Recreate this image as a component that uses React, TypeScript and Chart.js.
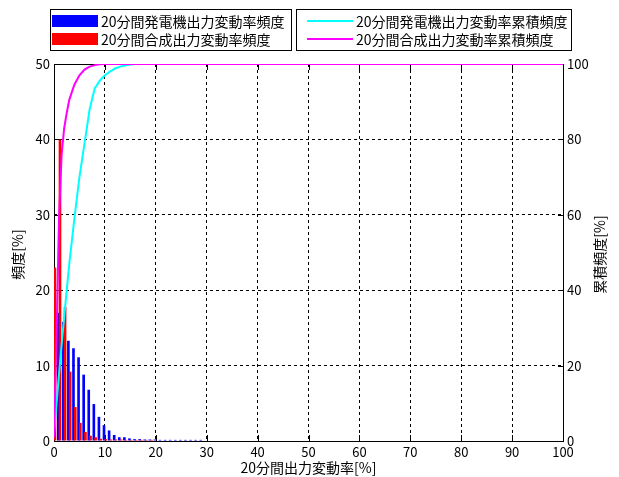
import React, { useEffect, useRef } from 'react';
import { Chart, registerables } from 'chart.js';

Chart.register(...registerables);

// ---- data ----
const binCenters = [0.5, 1.5, 2.5, 3.5, 4.5, 5.5, 6.5, 7.5, 8.5, 9.5, 10.5, 11.5, 12.5, 13.5, 14.5, 15.5, 16.5, 17.5, 18.5, 19.5, 20.5, 21.5, 22.5, 23.5, 24.5, 25.5, 26.5, 27.5, 28.5, 29.5];
const genFreq = [17, 15.8, 13.3, 12.3, 11.1, 8.8, 6.8, 4.9, 3.2, 2.1, 1.4, 0.8, 0.5, 0.5, 0.35, 0.25, 0.25, 0.2, 0.2, 0.2, 0.15, 0.15, 0.15, 0.15, 0.15, 0.15, 0.15, 0.15, 0.15, 0];
const synFreq = [23, 40, 17.8, 9.2, 4.5, 2.4, 1.2, 0.7, 0.5, 0.3, 0.25, 0.2, 0.2, 0.2, 0.15, 0.15, 0.15, 0.15, 0.15, 0.15, 0, 0, 0, 0, 0, 0, 0, 0, 0, 0];

const genCumX = [0, 1, 2, 3, 4, 5, 6, 7, 8, 9, 10, 11, 12, 13, 14, 15, 16, 100];
const genCum = [2, 18, 33, 47, 59, 70, 79, 88, 93.5, 95.6, 97, 98, 98.8, 99.3, 99.6, 99.85, 100, 100];
const synCumX = [0, 0.5, 1, 1.5, 2, 2.5, 3, 4, 5, 6, 7, 8, 9, 10, 100];
const synCum = [1, 28, 60, 76, 83, 87, 90.5, 94.5, 97, 98.5, 99.3, 99.7, 99.9, 100, 100];

const xTicksStep = 10;
const yLeftStep = 10;
const yRightStep = 20;

const labelGenFreq = '20分間発電機出力変動率頻度';
const labelSynFreq = '20分間合成出力変動率頻度';
const labelGenCum = '20分間発電機出力変動率累積頻度';
const labelSynCum = '20分間合成出力変動率累積頻度';
const xTitle = '20分間出力変動率[%]';
const yTitle = '頻度[%]';
const y1Title = '累積頻度[%]';

const FAMILY = '"Noto Sans CJK JP", sans-serif';

const decorPlugin = {
  id: 'decor',
  beforeDatasetsDraw(chart: any) {
    const { ctx, chartArea: a, scales } = chart;
    ctx.save();
    ctx.strokeStyle = '#000';
    ctx.lineWidth = 1;
    ctx.setLineDash([]);
    ctx.strokeRect(a.left + 0.5, a.top + 0.5, a.right - a.left, a.bottom - a.top);
    const tl = 6;
    ctx.beginPath();
    scales.x.ticks.forEach((t: any) => {
      const px = Math.round(scales.x.getPixelForValue(t.value)) + 0.5;
      ctx.moveTo(px, a.bottom);
      ctx.lineTo(px, a.bottom - tl);
      ctx.moveTo(px, a.top);
      ctx.lineTo(px, a.top + tl);
    });
    scales.y.ticks.forEach((t: any) => {
      const py = Math.round(scales.y.getPixelForValue(t.value)) + 0.5;
      ctx.moveTo(a.left, py);
      ctx.lineTo(a.left + tl, py);
    });
    scales.y1.ticks.forEach((t: any) => {
      const py = Math.round(scales.y1.getPixelForValue(t.value)) + 0.5;
      ctx.moveTo(a.right + 1, py);
      ctx.lineTo(a.right + 1 - tl, py);
    });
    ctx.stroke();
    ctx.restore();
  },
  afterDraw(chart: any) {
    const { ctx, chartArea: a } = chart;
    const ds = chart.data.datasets;
    ctx.save();
    ctx.fillStyle = '#000';
    ctx.font = `14px ${FAMILY}`;
    ctx.textBaseline = 'middle';
    // axis titles
    ctx.textAlign = 'center';
    ctx.fillText(xTitle, (a.left + a.right) / 2, 468);
    const cy = (a.top + a.bottom) / 2 + 2;
    ctx.save();
    ctx.translate(18, cy);
    ctx.rotate(-Math.PI / 2);
    ctx.fillText(yTitle, 0, 0);
    ctx.restore();
    ctx.save();
    ctx.translate(600, cy);
    ctx.rotate(-Math.PI / 2);
    ctx.fillText(y1Title, 0, 0);
    ctx.restore();

    // legend boxes
    ctx.strokeStyle = '#000';
    ctx.lineWidth = 1;
    ctx.fillStyle = '#fff';
    ctx.fillRect(51, 10, 241, 41);
    ctx.strokeRect(50.5, 9.5, 241, 41);
    ctx.fillRect(297, 10, 275, 41);
    ctx.strokeRect(296.5, 9.5, 275, 41);
    const rows = [21, 39];
    const bars = [ds[2], ds[3]];
    bars.forEach((d: any, i: number) => {
      ctx.fillStyle = d.backgroundColor;
      ctx.fillRect(52, rows[i] - 6, 46, 12);
      ctx.fillStyle = '#000';
      ctx.textAlign = 'left';
      ctx.fillText(d.label, 101, rows[i] + 1);
    });
    const lines = [ds[1], ds[0]];
    lines.forEach((d: any, i: number) => {
      ctx.strokeStyle = d.borderColor;
      ctx.lineWidth = 2;
      ctx.beginPath();
      ctx.moveTo(307, rows[i]);
      ctx.lineTo(353, rows[i]);
      ctx.stroke();
      ctx.fillStyle = '#000';
      ctx.textAlign = 'left';
      ctx.fillText(d.label, 356, rows[i] + 1);
    });
    ctx.restore();
  },
};

export default function App() {
  const ref = useRef<HTMLCanvasElement | null>(null);
  useEffect(() => {
    if (!ref.current) return;
    const chart = new Chart(ref.current, {
      type: 'bar',
      data: {
        datasets: [
          {
            type: 'line',
            label: labelSynCum,
            data: synCumX.map((x, i) => ({ x, y: synCum[i] })),
            borderColor: '#ff00ff',
            backgroundColor: '#ff00ff',
            borderWidth: 2,
            pointRadius: 0,
            tension: 0,
            yAxisID: 'y1',
            order: 0,
          } as any,
          {
            type: 'line',
            label: labelGenCum,
            data: genCumX.map((x, i) => ({ x, y: genCum[i] })),
            borderColor: '#00ffff',
            backgroundColor: '#00ffff',
            borderWidth: 2,
            pointRadius: 0,
            tension: 0,
            yAxisID: 'y1',
            order: 1,
          } as any,
          {
            type: 'bar',
            label: labelGenFreq,
            data: binCenters.map((x, i) => ({ x, y: genFreq[i] })),
            backgroundColor: '#0000ff',
            borderWidth: 0,
            yAxisID: 'y',
            order: 3,
            categoryPercentage: 1.3,
            barPercentage: 0.8,
          } as any,
          {
            type: 'bar',
            label: labelSynFreq,
            data: binCenters.map((x, i) => ({ x, y: synFreq[i] })),
            backgroundColor: '#ff0000',
            borderWidth: 0,
            yAxisID: 'y',
            order: 2,
            categoryPercentage: 1.3,
            barPercentage: 0.8,
          } as any,
        ],
      },
      options: {
        animation: false,
        responsive: false,
        devicePixelRatio: 1,
        layout: { padding: { top: 64, left: 0, right: 0, bottom: 0 } },
        plugins: { legend: { display: false }, tooltip: { enabled: false }, title: { display: false } },
        scales: {
          x: {
            type: 'linear',
            min: 0,
            max: 100,
            offset: false,
            grid: { color: '#000', lineWidth: 1, drawTicks: false, offset: false },
            border: { display: false, dash: [3, 3] },
            ticks: { stepSize: xTicksStep, color: '#000', padding: 3, font: { family: FAMILY, size: 13 }, maxRotation: 0 },
            afterFit: (s: any) => { s.height = 36; },
          },
          y: {
            type: 'linear',
            position: 'left',
            min: 0,
            max: 50,
            grid: { color: '#000', lineWidth: 1, drawTicks: false },
            border: { display: false, dash: [3, 3] },
            ticks: { stepSize: yLeftStep, color: '#000', padding: 4, font: { family: FAMILY, size: 13 } },
            afterFit: (s: any) => { s.width = 54; },
          },
          y1: {
            type: 'linear',
            position: 'right',
            min: 0,
            max: 100,
            grid: { drawOnChartArea: false, drawTicks: false },
            border: { display: false },
            ticks: { stepSize: yRightStep, color: '#000', padding: 4, font: { family: FAMILY, size: 13 } },
            afterFit: (s: any) => { s.width = 56; },
          },
        },
      } as any,
      plugins: [decorPlugin],
    });
    return () => chart.destroy();
  }, []);
  return (
    <div style={{ position: 'absolute', left: 0, top: 0, width: 619, height: 477, background: '#fff' }}>
      <canvas ref={ref} width={619} height={477} style={{ display: 'block' }} />
    </div>
  );
}
